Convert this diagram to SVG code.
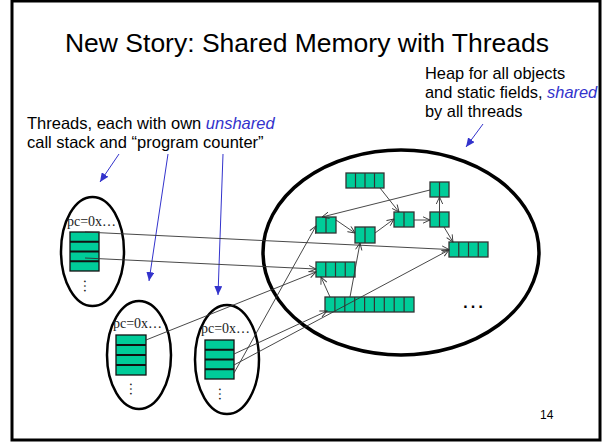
<svg xmlns="http://www.w3.org/2000/svg" width="605" height="442" viewBox="0 0 605 442">
<style>
.t{font-family:"Liberation Sans",Arial,sans-serif;fill:#000}
.pc{font-family:"Liberation Serif","Times New Roman",serif;font-size:14px;fill:#222}
.obj{fill:#00CC99;stroke:#333;stroke-width:1.3}
.div{stroke:#333;stroke-width:1.2;fill:none}
.stk{fill:#00CC99;stroke:#111;stroke-width:1.3}
.sdiv{stroke:#111;stroke-width:2;fill:none}
.oval{fill:none;stroke:#000;stroke-width:2.5}
.con{fill:none;stroke:#333;stroke-width:0.9;marker-end:url(#open)}
.blue{fill:none;stroke:#3333CC;stroke-width:1;marker-end:url(#tri)}
</style>
<defs>
<marker id="open" markerUnits="userSpaceOnUse" markerWidth="9" markerHeight="8" refX="8" refY="4" orient="auto">
<path d="M1,0.8 L8,4 L1,7.2" fill="none" stroke="#333" stroke-width="0.9"/>
</marker>
<marker id="tri" markerUnits="userSpaceOnUse" markerWidth="10" markerHeight="8" refX="9" refY="4" orient="auto">
<path d="M0,0 L9,4 L0,8 Z" fill="#3333CC"/>
</marker>
</defs>
<rect x="12" y="1" width="588" height="439" fill="#fff" stroke="#000" stroke-width="3"/>
<text class="t" x="307" y="52" font-size="26.5" text-anchor="middle">New Story: Shared Memory with Threads</text>
<g id="heap-label">
<text class="t" x="425" y="79" font-size="16.4">Heap for all objects</text>
<text class="t" x="425" y="98" font-size="16.4">and static fields, <tspan fill="#3333CC" font-style="italic">shared</tspan></text>
<text class="t" x="425" y="117" font-size="16.4">by all threads</text>
</g>
<g id="threads-label">
<text class="t" x="27" y="129" font-size="16.5">Threads, each with own <tspan fill="#3333CC" font-style="italic">unshared</tspan></text>
<text class="t" x="27" y="148" font-size="16.5">call stack and “program counter”</text>
</g>
<g id="heap">
<ellipse cx="401" cy="252.5" rx="138" ry="102.5" fill="none" stroke="#000" stroke-width="3.5"/>
<text class="t" x="461" y="308" font-size="24">…</text>
</g>
<g id="thread1">
<ellipse class="oval" cx="92.5" cy="251.5" rx="31.5" ry="54.5"/>
<text class="pc" x="67" y="226">pc=0x…</text>
<rect class="stk" x="70" y="232" width="29" height="39"/>
<path class="sdiv" d="M70,241.75H99M70,251.5H99M70,261.25H99"/>
<text class="pc" transform="translate(84,279) rotate(90)">…</text>
</g>
<g id="thread2">
<ellipse class="oval" cx="139" cy="355" rx="32" ry="54"/>
<text class="pc" x="113" y="328">pc=0x…</text>
<rect class="stk" x="116" y="335" width="30" height="40"/>
<path class="sdiv" d="M116,345H146M116,355H146M116,365H146"/>
<text class="pc" transform="translate(130,382) rotate(90)">…</text>
</g>
<g id="thread3">
<ellipse class="oval" cx="227" cy="359.5" rx="32" ry="54.5"/>
<text class="pc" x="201" y="333">pc=0x…</text>
<rect class="stk" x="205" y="340" width="29" height="39"/>
<path class="sdiv" d="M205,349.75H234M205,359.5H234M205,369.25H234"/>
<text class="pc" transform="translate(219,387) rotate(90)">…</text>
</g>
<g id="objA"><rect class="obj" x="346" y="173" width="38" height="15"/><path class="div" d="M355.5,173V188M365,173V188M374.5,173V188"/></g>
<g id="objB"><rect class="obj" x="430" y="182" width="19" height="15"/><path class="div" d="M439.5,182V197"/></g>
<g id="objC"><rect class="obj" x="394" y="212" width="20" height="15"/><path class="div" d="M404,212V227"/></g>
<g id="objD"><rect class="obj" x="430" y="212" width="19" height="15"/><path class="div" d="M439.5,212V227"/></g>
<g id="objE"><rect class="obj" x="316" y="217" width="20" height="16"/><path class="div" d="M326,217V233"/></g>
<g id="objF"><rect class="obj" x="355" y="227" width="20" height="16"/><path class="div" d="M365,227V243"/></g>
<g id="objG"><rect class="obj" x="449" y="242" width="39" height="15"/><path class="div" d="M458.75,242V257M468.5,242V257M478.25,242V257"/></g>
<g id="objH"><rect class="obj" x="316" y="262" width="39" height="15"/><path class="div" d="M325.75,262V277M335.5,262V277M345.25,262V277"/></g>
<g id="objI"><rect class="obj" x="325" y="297" width="89" height="15"/><path class="div" d="M334.9,297V312M344.8,297V312M354.7,297V312M364.6,297V312M374.4,297V312M384.3,297V312M394.2,297V312M404.1,297V312"/></g>
<g id="connectors">
<path class="blue" d="M483,124L466,147"/>
<path class="blue" d="M119,154L100,182"/>
<path class="blue" d="M168,154L149,281"/>
<path class="blue" d="M223,154L218,295"/>
<path class="con" d="M380,188L399,212"/>
<path class="con" d="M430,190L322,217"/>
<path class="con" d="M336,220L355,233"/>
<path class="con" d="M375,233L394,219"/>
<path class="con" d="M414,220L430,220"/>
<path class="con" d="M439.5,212L439.5,197"/>
<path class="con" d="M444,227L453,242"/>
<path class="con" d="M85,232L449,249.5"/>
<path class="con" d="M85,258L316,269"/>
<path class="con" d="M146,340L316,272"/>
<path class="con" d="M234,354L327,311"/>
<path class="con" d="M234,365L449,250"/>
<path class="con" d="M234,373L316,226"/>
<path class="con" d="M330,297L321,277"/>
<path class="con" d="M350,297L360,243"/>
</g>
<text class="t" x="540" y="419" font-size="12" fill="#222">14</text>
</svg>
